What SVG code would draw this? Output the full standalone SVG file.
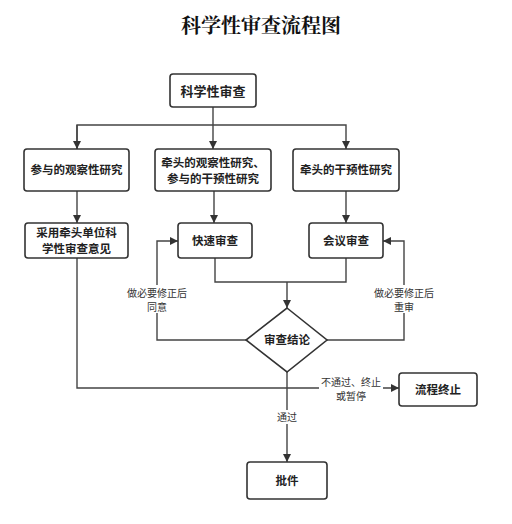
<svg xmlns="http://www.w3.org/2000/svg" width="512" height="524" viewBox="0 0 512 524">
<defs>
<marker id="ah" viewBox="0 0 10 10" refX="10" refY="5" markerWidth="8" markerHeight="8" markerUnits="userSpaceOnUse" orient="auto">
<path d="M0,0 L10,5 L0,10 z" fill="#333"/>
</marker>
<style>
.box{fill:#fff;stroke:#333;stroke-width:1.6}
.nt{font-family:"Noto Sans CJK SC","Noto Sans",sans-serif;font-size:11.5px;font-weight:bold;fill:#222;text-anchor:middle}
.lb{font-family:"Noto Sans CJK SC","Noto Sans",sans-serif;font-size:10px;fill:#333;text-anchor:middle}
.lbg{fill:#fff}
.ln{fill:none;stroke:#444;stroke-width:1.4}
.title{font-family:"Noto Serif CJK SC","Noto Sans CJK SC",serif;font-size:20px;font-weight:bold;fill:#111;text-anchor:middle}
</style>
</defs>
<rect width="512" height="524" fill="#fff"/>
<text class="title" x="261" y="33">科学性审查流程图</text>

<g id="connectors">
<path class="ln" d="M213,107 V149" marker-end="url(#ah)"/>
<path class="ln" d="M77,149 V125 H346 V149" marker-end="url(#ah)"/>
<path class="ln" d="M77,125 V149" marker-end="url(#ah)"/>
<path class="ln" d="M77,191 V223" marker-end="url(#ah)"/>
<path class="ln" d="M214,191 V223" marker-end="url(#ah)"/>
<path class="ln" d="M346,191 V223" marker-end="url(#ah)"/>
<path class="ln" d="M215,258 V282 H346 V258"/>
<path class="ln" d="M287,282 V308" marker-end="url(#ah)"/>
<path class="ln" d="M246,340 H157 V241 H178" marker-end="url(#ah)"/>
<path class="ln" d="M327,340 H404 V241 H383" marker-end="url(#ah)"/>
<path class="ln" d="M77,258 V388 H399" marker-end="url(#ah)"/>
<path class="ln" d="M287,372 V462" marker-end="url(#ah)"/>
<rect class="lbg" x="125" y="285" width="64" height="28"/>
<text class="lb" x="157" y="297">做必要修正后</text>
<text class="lb" x="157" y="311">同意</text>
<rect class="lbg" x="372" y="285" width="64" height="28"/>
<text class="lb" x="404" y="297">做必要修正后</text>
<text class="lb" x="404" y="311">重审</text>
<rect class="lbg" x="319" y="375" width="64" height="27"/>
<text class="lb" x="351" y="386">不通过、终止</text>
<text class="lb" x="351" y="400">或暂停</text>
<rect class="lbg" x="275" y="410" width="24" height="14"/>
<text class="lb" x="287" y="421">通过</text>
</g>

<g id="n-start"><rect class="box" x="170" y="74" width="86" height="33" rx="3"/><text class="nt" x="213" y="96" style="font-size:13px">科学性审查</text></g>
<g id="n-obs"><rect class="box" x="24" y="149" width="105" height="42" rx="3"/><text class="nt" x="76.5" y="174">参与的观察性研究</text></g>
<g id="n-mix"><rect class="box" x="155" y="149" width="116" height="42" rx="3"/><text class="nt" x="213" y="167">牵头的观察性研究、</text><text class="nt" x="213" y="183">参与的干预性研究</text></g>
<g id="n-int"><rect class="box" x="293" y="149" width="106" height="42" rx="3"/><text class="nt" x="346" y="174">牵头的干预性研究</text></g>
<g id="n-adopt"><rect class="box" x="25" y="223" width="103" height="35" rx="3"/><text class="nt" x="76.5" y="237">采用牵头单位科</text><text class="nt" x="76.5" y="253">学性审查意见</text></g>
<g id="n-fast"><rect class="box" x="178" y="223" width="74" height="35" rx="3"/><text class="nt" x="215" y="245">快速审查</text></g>
<g id="n-meet"><rect class="box" x="309" y="223" width="74" height="35" rx="3"/><text class="nt" x="346" y="245">会议审查</text></g>
<g id="n-decide"><polygon class="box" points="287,308 327,340 287,372 246,340"/><text class="nt" x="287" y="344">审查结论</text></g>
<g id="n-stop"><rect class="box" x="399" y="373" width="78" height="33" rx="3"/><text class="nt" x="438" y="394">流程终止</text></g>
<g id="n-approve"><rect class="box" x="247" y="462" width="80" height="37" rx="3"/><text class="nt" x="287" y="485">批件</text></g>
</svg>
